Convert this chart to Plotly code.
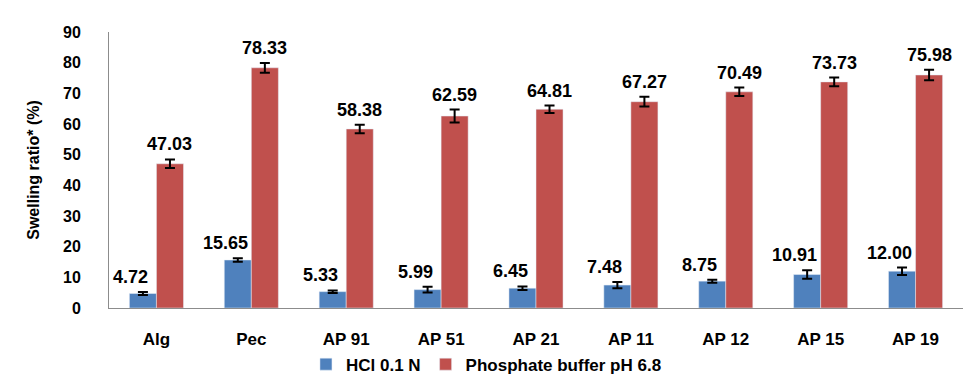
import plotly.graph_objects as go

categories = ["Alg", "Pec", "AP 91", "AP 51", "AP 21", "AP 11", "AP 12", "AP 15", "AP 19"]
hcl_values = [4.72, 15.65, 5.33, 5.99, 6.45, 7.48, 8.75, 10.91, 12.00]
hcl_errors = [0.5, 0.6, 0.4, 0.9, 0.6, 1.0, 0.5, 1.4, 1.2]
pbs_values = [47.03, 78.33, 58.38, 62.59, 64.81, 67.27, 70.49, 73.73, 75.98]
pbs_errors = [1.4, 1.6, 1.4, 2.1, 1.2, 1.6, 1.4, 1.4, 1.7]
y_ticks = [0, 10, 20, 30, 40, 50, 60, 70, 80, 90]

FONT = "Liberation Sans, Arial, sans-serif"
BLUE = "#4F81BD"
RED = "#C0504D"

fig = go.Figure()
fig.add_trace(go.Bar(
    name="HCl 0.1 N", x=categories, y=hcl_values, marker_color=BLUE,
    error_y=dict(type="data", array=hcl_errors, color="black", thickness=2, width=5),
))
fig.add_trace(go.Bar(
    name="Phosphate buffer pH 6.8", x=categories, y=pbs_values, marker_color=RED,
    error_y=dict(type="data", array=pbs_errors, color="black", thickness=2, width=5),
))

annotations = []
for c, v, e in zip(categories, hcl_values, hcl_errors):
    annotations.append(dict(x=c, y=v + e, text=f"{v:.2f}", showarrow=False,
                            xshift=-26, yshift=3, yanchor="bottom",
                            font=dict(family=FONT, size=18, color="black", weight="bold")))
for c, v, e in zip(categories, pbs_values, pbs_errors):
    annotations.append(dict(x=c, y=v + e, text=f"{v:.2f}", showarrow=False,
                            xshift=13.5, yshift=3, yanchor="bottom",
                            font=dict(family=FONT, size=18, color="black", weight="bold")))

fig.update_layout(
    width=979, height=387,
    margin=dict(l=101, r=24, t=24, b=78),
    paper_bgcolor="white", plot_bgcolor="white",
    barmode="group", bargap=0.43, bargroupgap=0,
    font=dict(family=FONT, color="black", weight="bold"),
    showlegend=True,
    legend=dict(orientation="h", x=0.442, xanchor="center", y=-0.205, yanchor="middle",
                font=dict(family=FONT, size=17, weight="bold"),
                itemwidth=30, tracegroupgap=0, traceorder="normal"),
    annotations=annotations,
    xaxis=dict(showline=True, linecolor="#8c8c8c", linewidth=1, showgrid=False,
               ticks="", ticklabelstandoff=16,
               tickfont=dict(family=FONT, size=17, weight="bold")),
    yaxis=dict(range=[0, 90], tickvals=y_ticks, showline=True, linecolor="#8c8c8c", linewidth=1,
               showgrid=False, zeroline=False,
               ticks="outside", ticklen=24, tickcolor="rgba(0,0,0,0)",
               tickfont=dict(family=FONT, size=16, weight="bold"),
               title=dict(text="Swelling ratio* (%)", standoff=19,
                          font=dict(family=FONT, size=16, weight="bold"))),
)

fig.write_html("out.html")
